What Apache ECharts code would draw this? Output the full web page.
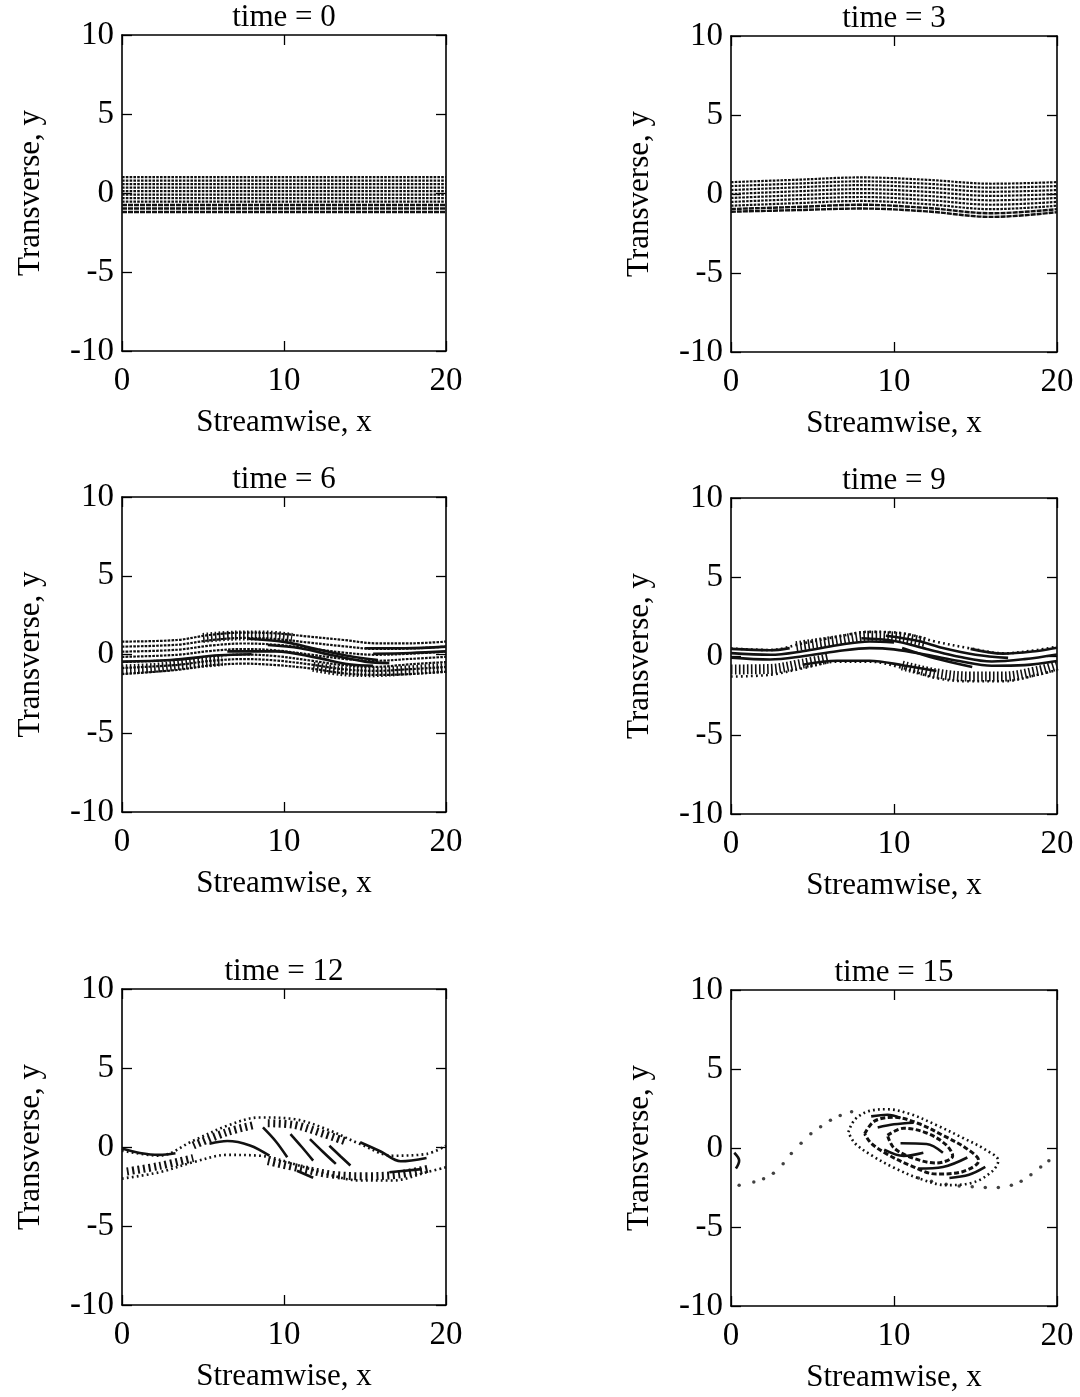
<!DOCTYPE html>
<html><head><meta charset="utf-8">
<script src="https://cdn.jsdelivr.net/npm/echarts@6/dist/echarts.min.js"></script>
<style>html,body{margin:0;padding:0;background:#fff}#c{width:1080px;height:1397px}</style>
</head><body><div id="c"></div>
<script>
// ---------- DATA ----------
const titles = ['time = 0','time = 3','time = 6','time = 9','time = 12','time = 15'];
const xTicks = [0, 10, 20];
const yTicks = [-10, -5, 0, 5, 10];

// time = 0 : flat layer, rows of markers (y values)
const t0RowY = [1.0, 0.78, 0.56, 0.34, 0.12, -0.1, -0.32, -0.54, -0.76, -0.98, -1.2];

// time = 3 : slightly waved rows, sampled at t3X
const t3X = [0, 4, 8, 12, 16, 20];
const t3Rows = [
  [0.75, 0.90, 1.05, 0.90, 0.65, 0.75],
  [0.50, 0.66, 0.80, 0.65, 0.40, 0.50],
  [0.25, 0.42, 0.56, 0.40, 0.14, 0.25],
  [0.00, 0.17, 0.31, 0.14, -0.12, 0.00],
  [-0.25, -0.08, 0.06, -0.12, -0.40, -0.25],
  [-0.50, -0.33, -0.19, -0.38, -0.68, -0.50],
  [-0.74, -0.58, -0.44, -0.64, -0.96, -0.74],
  [-0.95, -0.82, -0.68, -0.88, -1.22, -0.96],
  [-1.12, -1.02, -0.92, -1.10, -1.45, -1.15]
];

// time = 6
const t6X = [0, 3.4, 5.4, 7.5, 9.5, 11.6, 13.7, 15.7, 17.8, 20];
const t6Rows = [
  [0.82, 0.92, 1.24, 1.39, 1.34, 1.13, 0.92, 0.71, 0.71, 0.82],
  [0.50, 0.62, 0.90, 1.05, 0.98, 0.75, 0.52, 0.35, 0.38, 0.50],
  [0.18, 0.30, 0.56, 0.70, 0.62, 0.38, 0.12, -0.02, 0.05, 0.18],
  [-0.15, -0.02, 0.22, 0.35, 0.26, 0.00, -0.28, -0.40, -0.28, -0.15],
  [-0.48, -0.34, -0.12, 0.00, -0.10, -0.38, -0.68, -0.78, -0.62, -0.48],
  [-0.86, -0.66, -0.41, -0.29, -0.38, -0.63, -0.94, -1.04, -0.93, -0.79],
  [-1.24, -0.98, -0.70, -0.58, -0.67, -0.88, -1.20, -1.30, -1.24, -1.09]
];
const t6Hatch = [
  [[0, -0.95], [2, -0.85], [4, -0.62], [6.2, -0.42]],
  [[5, 1.05], [7, 1.2], [9, 1.2], [10.5, 1.05]],
  [[11.8, -0.78], [13.5, -1.05], [15.5, -1.12], [17.5, -1.02], [20, -0.85]]
];
const t6Streaks = [
  [[7.8, 1.0], [10, 0.8], [12, 0.35], [14, -0.1], [15.8, -0.35]],
  [[9, 0.6], [11, 0.4], [13, -0.05], [15, -0.45], [16.5, -0.55]],
  [[6.5, 0.2], [9.5, 0.2], [12, -0.2], [14, -0.62], [15.5, -0.72]],
  [[0, -0.45], [3, -0.35], [6, -0.05], [8, 0.02]],
  [[15, 0.4], [17.5, 0.4], [20, 0.5]],
  [[15.5, 0.05], [17.8, 0.1], [20, 0.2]]
];

// time = 9
const t9X = [0, 2.4, 4.4, 6.5, 8.5, 10.6, 12.6, 14.7, 16.7, 18.8, 20];
const t9Upper = [0.48, 0.38, 0.80, 1.22, 1.53, 1.43, 0.90, 0.48, 0.17, 0.38, 0.59];
const t9Lower = [-1.30, -1.19, -0.78, -0.36, -0.36, -0.78, -1.40, -1.60, -1.60, -1.19, -0.88];
const t9Hatch = [
  [[0, -0.85], [2.4, -0.82], [4.4, -0.48], [6, -0.15]],
  [[4, 0.62], [6.5, 1.0], [8.5, 1.28], [10.5, 1.18], [12, 0.85]],
  [[10.5, -0.6], [12.6, -1.1], [14.7, -1.3], [16.7, -1.3], [18.8, -0.95], [20, -0.6]]
];
const t9Streaks = [
  [[0, 0.45], [2.4, 0.36], [3.6, 0.5]],
  [[0, 0.18], [2.4, 0.08], [4.4, 0.3], [6.5, 0.68], [8.5, 0.92], [10, 0.85]],
  [[0, -0.1], [2.4, -0.22], [4.4, -0.02], [6.5, 0.3], [8.5, 0.5], [10, 0.42], [12, 0.08], [14, -0.32], [16, -0.62], [18, -0.58], [20, -0.32]],
  [[4.4, -0.55], [6.5, -0.3], [8.5, -0.3], [10.6, -0.6], [12.6, -0.95]],
  [[8, 1.12], [10, 0.95], [12, 0.45], [14, -0.05], [16, -0.35], [18, -0.2], [20, 0.1]],
  [[9.5, 1.28], [11.5, 0.95], [13, 0.5], [15, 0.08], [17, -0.12]],
  [[10.5, 0.5], [12.5, -0.15], [14.8, -0.7]],
  [[14.7, 0.45], [16.7, 0.15], [18.8, 0.32], [20, 0.52]]
];

// time = 12
const t12X = [0, 2.3, 4.4, 6.5, 8.5, 10.6, 12.6, 14.7, 16.7, 18.8, 20];
const t12Upper = [-0.23, -0.55, 0.40, 1.35, 1.87, 1.77, 1.14, 0.19, -0.55, -0.44, 0.08];
const t12Lower = [-2.0, -1.6, -0.96, -0.50, -0.55, -1.07, -1.70, -2.12, -2.12, -1.60, -1.28];
const t12Hatch = [
  [[0.3, -1.55], [2.3, -1.2], [4.4, -0.7]],
  [[9, -0.9], [11, -1.35], [13, -1.75], [15, -1.85], [17, -1.75], [19, -1.35]],
  [[9, 1.5], [10.6, 1.4], [12.4, 0.85], [13.8, 0.35]],
  [[4.4, 0.1], [6.5, 0.95], [8.2, 1.4]]
];
const t12Streaks = [
  [[0, -0.1], [1.1, -0.38], [2.3, -0.5], [3.3, -0.4]],
  [[5.4, 0.2], [6.5, 0.38], [7.9, 0.1], [9.1, -0.55]],
  [[8.7, 1.24], [9.5, 0.35], [10.2, -0.65]],
  [[10.4, 0.82], [11.1, 0.0], [11.8, -0.86]],
  [[11.6, 0.5], [12.4, -0.3], [13.2, -1.07]],
  [[12.8, 0.08], [13.5, -0.6], [14.1, -1.17]],
  [[14.7, 0.3], [16, -0.3], [17.2, -0.9], [18.8, -0.69]],
  [[10.8, -1.5], [11.8, -1.95]],
  [[16.5, -1.6], [18.5, -1.4]]
];

// time = 15
const t15Braid = [
  [0.5, -2.35], [1.4, -2.15], [2.0, -1.95], [2.6, -1.6], [3.2, -1.0], [3.7, -0.35],
  [4.3, 0.3], [4.9, 0.9], [5.5, 1.35], [6.1, 1.75], [6.7, 2.05], [7.4, 2.3],
  [11.5, -1.9], [12.3, -2.1], [13.2, -2.3], [14.0, -2.4], [14.8, -2.45], [15.6, -2.5],
  [16.4, -2.5], [17.2, -2.35], [17.8, -2.1], [18.4, -1.7], [19.0, -1.2], [19.5, -0.8]
];
const t15CoreOuter = [[7.2, 1.0], [7.6, 1.8], [8.5, 2.35], [9.6, 2.45], [11, 2.15], [12.6, 1.45], [14.2, 0.65], [15.6, -0.1], [16.4, -0.8], [16.0, -1.5], [14.8, -2.2], [13.2, -2.35], [11.6, -1.95], [10.0, -1.25], [8.6, -0.45], [7.6, 0.3], [7.2, 1.0]];
const t15CoreMid = [[8.2, 0.9], [8.8, 1.7], [10, 1.95], [11.5, 1.55], [13, 0.8], [14.4, 0.0], [15.2, -0.8], [14.2, -1.5], [12.6, -1.65], [11, -1.1], [9.6, -0.4], [8.6, 0.3], [8.2, 0.9]];
const t15CoreInner = [[9.6, 0.8], [10.6, 1.25], [12, 0.95], [13.2, 0.2], [13.6, -0.5], [12.6, -0.95], [11.2, -0.65], [10, 0.0], [9.6, 0.8]];
const t15Streaks = [
  [[10.4, 0.3], [12, 0.25], [13, -0.3]],
  [[9, 1.3], [10, 1.5], [11.2, 1.6]],
  [[11.5, -1.3], [13, -1.2], [14.5, -0.6]],
  [[8.6, 2.0], [9.6, 2.1], [10.4, 1.9]],
  [[9.4, -0.1], [10.6, -0.5], [11.8, -0.3]],
  [[13.4, -1.9], [14.6, -1.7], [15.6, -1.2]],
  [[0.2, -0.3], [0.5, -0.8], [0.3, -1.3]]
];

// ---------- LAYOUT / STYLE ----------
const grids = [
  {left: 122, top: 35, width: 324, height: 316},
  {left: 731, top: 36, width: 326, height: 316},
  {left: 122, top: 497, width: 324, height: 315},
  {left: 731, top: 498, width: 326, height: 316},
  {left: 122, top: 989, width: 324, height: 316},
  {left: 731, top: 990, width: 326, height: 316}
];
const FONT = '"Liberation Serif", "Times New Roman", serif';
const INK = '#111';

const rowStyle = {color: INK, width: 2.2, type: [2.6, 1.2]};
const hatchStyle = {color: INK, width: 10, type: [1.6, 2.4], cap: 'butt'};
const solidStyle = {color: INK, width: 2.6};
const dotStyle = {color: INK, width: 2.6, type: [1.8, 3.2], cap: 'butt'};
const breakStyle = {color: INK, width: 3, type: [5, 2.5]};

const series = [];
function line(gi, data, style, smooth) {
  series.push({type: 'line', xAxisIndex: gi * 2, yAxisIndex: gi * 2, data: data,
    showSymbol: false, symbol: 'none', smooth: smooth === undefined ? 0.35 : smooth,
    lineStyle: style, silent: true, animation: false, z: 3});
}
function zipX(xs, ys) { return xs.map((x, i) => [x, ys[i]]); }

// panel 0
t0RowY.forEach((y, i) => line(0, [[0, y], [20, y]], i >= 8 ? {color: INK, width: 2.4, type: [5, 1]} : rowStyle, false));
// panel 1
t3Rows.forEach((r, i) => line(1, zipX(t3X, r), i >= 7 ? {color: INK, width: 2.4, type: [5, 1]} : rowStyle));
// panel 2
t6Rows.forEach(r => line(2, zipX(t6X, r), rowStyle));
t6Hatch.forEach(h => line(2, h, hatchStyle));
t6Streaks.forEach(s => line(2, s, solidStyle));
// panel 3
line(3, zipX(t9X, t9Upper), dotStyle);
line(3, zipX(t9X, t9Lower), dotStyle);
t9Hatch.forEach(h => line(3, h, hatchStyle));
t9Streaks.forEach(s => line(3, s, solidStyle));
// panel 4
line(4, zipX(t12X, t12Upper), dotStyle);
line(4, zipX(t12X, t12Lower), dotStyle);
t12Hatch.forEach(h => line(4, h, {color: INK, width: 8, type: [2, 3.5], cap: 'butt'}));
t12Streaks.forEach(s => line(4, s, solidStyle));
// panel 5
series.push({type: 'scatter', xAxisIndex: 10, yAxisIndex: 10, data: t15Braid, symbolSize: 3.5,
  itemStyle: {color: INK}, silent: true, animation: false});
line(5, t15CoreOuter, dotStyle);
line(5, t15CoreMid, breakStyle);
line(5, t15CoreInner, breakStyle);
t15Streaks.forEach(s => line(5, s, solidStyle));

const xAxis = [], yAxis = [];
const axisLineSt = {onZero: false, lineStyle: {color: '#000', width: 1.6}};
const tickSt = {inside: true, length: 10, lineStyle: {color: '#000', width: 1.3}};
const labelSt = {fontFamily: FONT, fontSize: 33, color: '#000'};
grids.forEach((g, i) => {
  xAxis.push({type: 'value', gridIndex: i, min: xTicks[0], max: xTicks[2], interval: xTicks[1] - xTicks[0],
    position: 'bottom', axisLine: axisLineSt, axisTick: tickSt, splitLine: {show: false},
    axisLabel: Object.assign({margin: 14, formatter: v => String(v)}, labelSt),
    name: 'Streamwise, x', nameLocation: 'middle', nameGap: 56,
    nameTextStyle: {fontFamily: FONT, fontSize: 31, color: '#000'}});
  xAxis.push({type: 'value', gridIndex: i, min: xTicks[0], max: xTicks[2], interval: xTicks[1] - xTicks[0],
    position: 'top', axisLine: axisLineSt, axisTick: tickSt, splitLine: {show: false}, axisLabel: {show: false}});
  yAxis.push({type: 'value', gridIndex: i, min: yTicks[0], max: yTicks[4], interval: 5,
    position: 'left', axisLine: axisLineSt, axisTick: tickSt, splitLine: {show: false},
    axisLabel: Object.assign({margin: 8}, labelSt),
    name: 'Transverse, y', nameLocation: 'middle', nameGap: 76, nameRotate: 90,
    nameTextStyle: {fontFamily: FONT, fontSize: 31, color: '#000'}});
  yAxis.push({type: 'value', gridIndex: i, min: yTicks[0], max: yTicks[4], interval: 5,
    position: 'right', axisLine: axisLineSt, axisTick: tickSt, splitLine: {show: false}, axisLabel: {show: false}});
});
const graphic = titles.map((t, i) => ({
  type: 'text', x: grids[i].left + grids[i].width / 2, y: grids[i].top - 2,
  style: {text: t, textAlign: 'center', textVerticalAlign: 'bottom', font: '31px ' + FONT, fill: '#000'}
}));

const chart = echarts.init(document.getElementById('c'), null, {renderer: 'canvas'});
chart.setOption({
  animation: false,
  grid: grids,
  xAxis: xAxis,
  yAxis: yAxis,
  series: series,
  graphic: graphic
});
</script></body></html>
